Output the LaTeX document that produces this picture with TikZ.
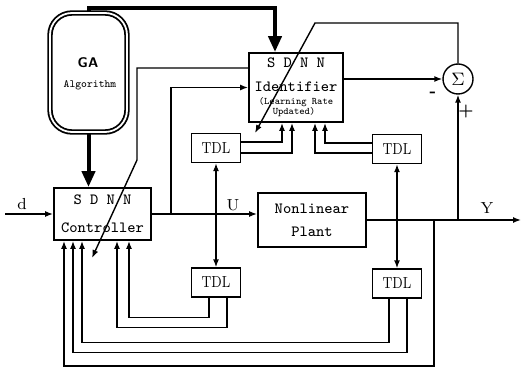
\documentclass[tikz,border=0pt]{standalone}
\usetikzlibrary{arrows.meta, positioning}

\tikzset{
  blockbox/.style={draw, line width=0.9pt, inner sep=0pt, align=center},
  tdlbox/.style={draw, minimum width=24.5pt, minimum height=14.5pt, inner sep=0pt, font=\rmfamily\fontsize{8}{8}\selectfont},
  sumnode/.style={draw, circle, minimum size=15pt, inner sep=0pt, font=\fontsize{9}{9}\selectfont},
  boxtext/.style={font=\ttfamily\fontsize{7.8}{8}\selectfont, inner sep=0pt},
  sigtext/.style={font=\rmfamily\fontsize{8}{8}\selectfont, inner sep=0pt},
  bigarrow/.style={line width=2pt, -{Triangle[length=8pt,width=6.5pt]}}
}

\begin{document}
\begin{tikzpicture}[x=0.5pt, y=-0.5pt, line width=0.7pt, >={Latex[length=4pt,width=3pt]}]
\useasboundingbox (0,0) rectangle (523,368);

% GA block
\node (ga) at (88.5,72.5) [draw, double, double distance=0.9pt, line width=0.9pt, rounded corners=11pt, minimum width=38.5pt, minimum height=59.5pt] {};
\node (gaT) at (88,63) [font=\sffamily\bfseries\fontsize{7}{7}\selectfont] {GA};
\node (gaA) at (90,85) [font=\ttfamily\fontsize{5.5}{6}\selectfont] {Algorithm};

% identifier
\node (ident) at (296,87.5) [blockbox, minimum width=47pt, minimum height=34.5pt] {};
\node (identA) at (296,63) [boxtext] {S D N N};
\node (identB) at (296,87) [boxtext] {Identifier};
\node (identC) at (296,102) [boxtext, font=\ttfamily\fontsize{5}{5}\selectfont] {(Learning Rate};
\node (identD) at (294,112) [boxtext, font=\ttfamily\fontsize{5}{5}\selectfont] {Updated)};

% controller and plant
\node (ctrl) at (102.5,214) [blockbox, minimum width=48.5pt, minimum height=26pt, font=\ttfamily\fontsize{7.8}{14}\selectfont] {S D N N\\Controller};
\node (plant) at (312,220) [blockbox, minimum width=54pt, minimum height=27pt, font=\ttfamily\fontsize{7.8}{11.5}\selectfont] {Nonlinear\\Plant};

% delay lines
\node (tdlA) at (216,148) [tdlbox] {\scalebox{0.8}[1]{TDL}};
\node (tdlB) at (397,149) [tdlbox] {\scalebox{0.8}[1]{TDL}};
\node (tdlC) at (216,282.5) [tdlbox] {\scalebox{0.8}[1]{TDL}};
\node (tdlD) at (397,283.5) [tdlbox] {\scalebox{0.8}[1]{TDL}};

% summing junction
\node (sum) at (458,79) [sumnode] {$\Sigma$};
\node (minus) at (433,94) [sigtext, font=\bfseries\fontsize{8}{8}\selectfont] {-};
\node (plus) at (466,112) [sigtext, font=\bfseries\fontsize{8}{8}\selectfont] {+};

% signals
\coordinate (dIn) at (5,214);
\coordinate (yOut) at (521,220);
\coordinate (uTap) at (171,214);
\coordinate (fbTap) at (434,220);
\coordinate (errTop) at (315,23);
\coordinate (errTip) at (255,133);
\coordinate (ctlBend) at (137,160);
\coordinate (ctlTip) at (92,258);

\node (dLab) at (22,204) [sigtext] {d};
\node (uLab) at (233,205) [sigtext] {U};
\node (yLab) at (487,208) [sigtext] {Y};

\draw[->] (dIn) -- (ctrl.west);
\draw[->] (ctrl.east) -- (ctrl.east -| plant.west);
\draw[->] (plant.east) -- (yOut);

% GA links
\draw[bigarrow] (ga.south) -- (ga.south |- ctrl.north);
\draw[bigarrow] (ga.north) -- ++(0,-4) -| ([xshift=-10.5pt]ident.north);

% error and adaptation
\draw[->] (ident.east |- sum) -- (sum);
\draw[->] (sum.south |- yOut) -- (sum.south);
\draw[->] (sum.north) |- (errTop) -- (errTip);
\draw[->] ([yshift=9.75pt]ident.west) -| (ctlBend) -- (ctlTip);
\draw[->] (uTap) |- (ident.west);

% taps into delay lines
\draw[->] (tdlA.south |- ctrl.east) -- (tdlA.south);
\draw[->] (tdlC.north |- ctrl.east) -- (tdlC.north);
\draw[->] (tdlB.south |- plant.east) -- (tdlB.south);
\draw[->] (tdlD.north |- plant.east) -- (tdlD.north);

% delay lines to identifier
\draw[->] ([yshift=3pt]tdlA.east) -| ([xshift=-7pt]ident.south);
\draw[->] ([yshift=-2.5pt]tdlA.east) -| ([xshift=-2pt]ident.south);
\draw[->] ([yshift=3pt]tdlB.west) -| ([xshift=14.5pt]ident.south);
\draw[->] ([yshift=-2pt]tdlB.west) -| ([xshift=9.5pt]ident.south);

% delay lines to controller
\draw[->] ([xshift=-3.5pt]tdlC.south) -- ++(0,20) -| ([xshift=13.25pt]ctrl.south);
\draw[->] ([xshift=5.5pt]tdlC.south) -- ++(0,30) -| ([xshift=7.25pt]ctrl.south);
\draw[->] ([xshift=-4pt]tdlD.south) -- ++(0,44) -| ([xshift=-10.25pt]ctrl.south);
\draw[->] ([xshift=5pt]tdlD.south) -- ++(0,54) -| ([xshift=-14.75pt]ctrl.south);
\draw[->] (fbTap) -- ++(0,146) -| ([xshift=-19.25pt]ctrl.south);
\end{tikzpicture}
\end{document}
